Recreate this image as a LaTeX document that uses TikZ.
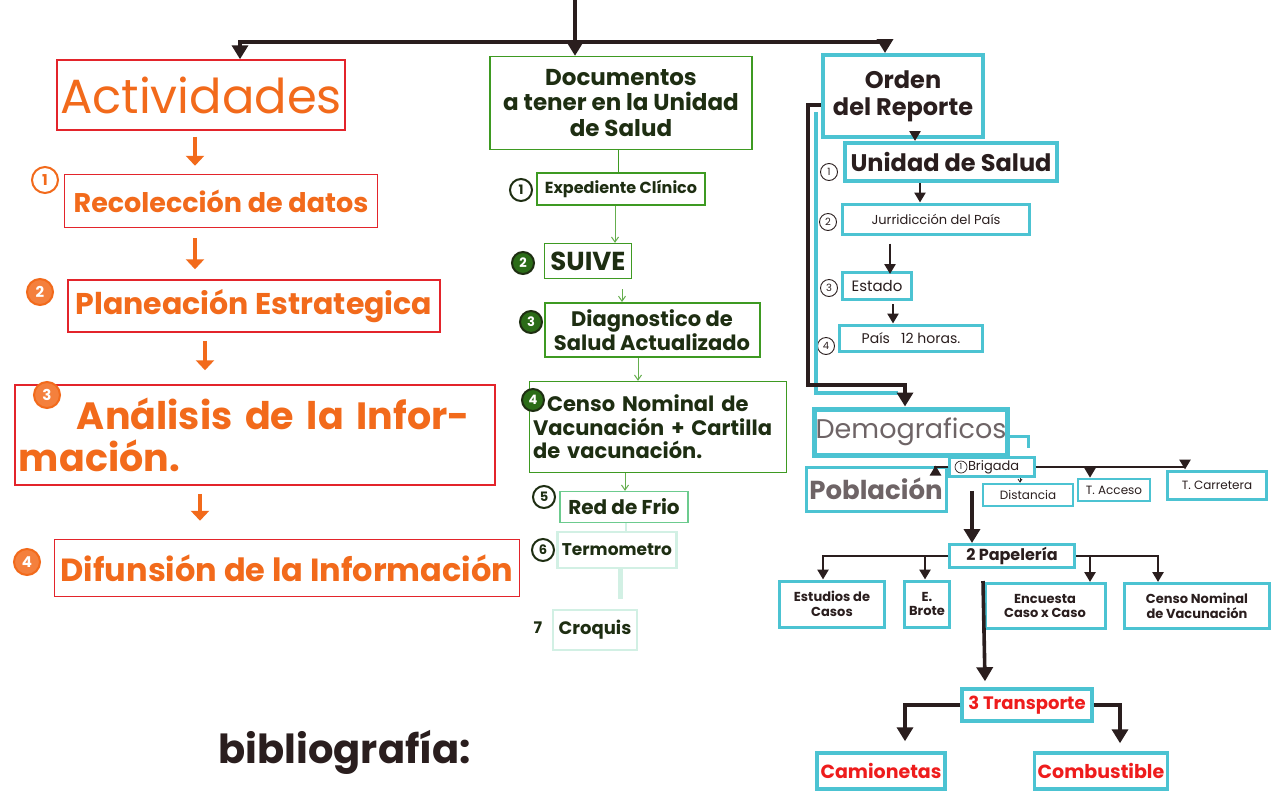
\documentclass[tikz,border=0pt]{standalone}
\usepackage{fontspec}
\setmainfont{Poppins}
\usetikzlibrary{arrows.meta,calc}
\definecolor{boxred}{HTML}{E3242B}
\definecolor{txtor}{HTML}{F26A1B}
\definecolor{boxgreen}{HTML}{3E9A22}
\definecolor{txtgreen}{HTML}{1E2E12}
\definecolor{lgreen}{HTML}{6CCB8E}
\definecolor{fgreen}{HTML}{D2F0E4}
\definecolor{cyanbox}{HTML}{4CC3D2}
\definecolor{ink}{HTML}{2A1E1E}
\definecolor{graytxt}{HTML}{6E6466}
\definecolor{redtxt}{HTML}{EE1C1C}
\newcommand{\fs}[1]{\fontsize{#1}{1.12\dimexpr #1pt\relax}\selectfont}
\tikzset{
  obox/.style={draw=boxred, line width=1.5pt, text=txtor, font=\bfseries, inner sep=0pt, align=center},
  onum/.style={circle, draw=txtor, line width=2pt, text=txtor, font=\bfseries\fs{15}, inner sep=1pt, minimum size=26pt},
  onumf/.style={onum, fill=txtor!85, text=white},
  oarrow/.style={draw=txtor, line width=4.5pt, -{Triangle[length=10pt,width=18pt]}},
  gbox/.style={draw=boxgreen, line width=1.3pt, text=txtgreen, font=\bfseries, inner sep=0pt, align=center},
  gnum/.style={circle, draw=txtgreen, line width=2pt, text=txtgreen, font=\bfseries\fs{13}, inner sep=1pt, minimum size=22pt},
  gnumf/.style={gnum, fill=boxgreen!70!black, text=white},
  garrow/.style={draw=boxgreen!80, line width=1pt, -{Straight Barb[length=5pt,width=7pt]}},
  cbox/.style={draw=cyanbox, line width=4pt, text=ink, font=\bfseries, inner sep=0pt, align=center},
  cnum/.style={circle, draw=ink, line width=0.9pt, text=ink, font=\fs{10}, inner sep=0.8pt, minimum size=17pt},
  barrow/.style={draw=ink, line width=3.6pt, -{Triangle[length=14pt,width=16pt]}},
  sarrow/.style={draw=ink, line width=2.6pt, -{Triangle[length=10pt,width=11pt]}},
}
\begin{document}
\begin{tikzpicture}[x=1pt,y=-1pt]
\useasboundingbox[fill=white] (0,0) rectangle (1285,793);

% ---------- top connector ----------
\coordinate (topstart) at (575,0);
\coordinate (hub) at (575,42);

% ---------- left column ----------
\node[obox, minimum width=288pt, minimum height=70pt, font=\fs{48}] (act) at (201,95) {Actividades};
\node[obox, minimum width=313pt, minimum height=53pt, font=\bfseries\fs{27}] (rec) at (221,201) {Recolección de datos};
\node[onum] (n1) at (45,180) {1};
\node[obox, minimum width=372pt, minimum height=52pt, font=\bfseries\fs{30}] (plan) at (254,306) {Planeación Estrategica};
\node[onumf] (n2) at (40,292) {2};
\node[obox, minimum width=480pt, minimum height=100pt, font=\bfseries\fs{38}, align=left, text width=472pt] (anal) at (255,435) {\hspace*{58pt}Análisis de la Infor-\\mación.};
\node[onumf] (n3) at (47,395) {3};
\node[obox, minimum width=465pt, minimum height=57pt, font=\bfseries\fs{32}] (dif) at (287,568) {Difunsión de la Información};
\node[onumf] (n4) at (27,562) {4};
\node[font=\bfseries\fs{40}, text=ink, anchor=west] (bib) at (215,752) {bibliografía:};

\draw[oarrow] ([xshift=-6pt,yshift=-6pt]act.south) -- ([xshift=-26pt,yshift=8pt]rec.north);
\draw[oarrow] ([xshift=-26pt,yshift=-10pt]rec.south) -- ([xshift=-59pt,yshift=10pt]plan.north);
\draw[oarrow] ([xshift=-49pt,yshift=-8pt]plan.south) -- ([xshift=-50pt,yshift=14pt]anal.north);
\draw[oarrow] ([xshift=-55pt,yshift=-8pt]anal.south) -- ([xshift=-87pt,yshift=18pt]dif.north);

% ---------- middle column ----------
\node[gbox, minimum width=262pt, minimum height=93pt, font=\bfseries\fs{23}] (docs) at (621,103) {Documentos\\a tener en la Unidad\\de Salud};
\node[gbox, minimum width=168pt, minimum height=32pt, font=\bfseries\fs{16}] (exp) at (621,189) {Expediente Clínico};
\node[gnum] (g1) at (521,190) {1};
\node[gbox, minimum width=87pt, minimum height=35pt, font=\bfseries\fs{26}] (suive) at (588,261) {SUIVE};
\node[gnumf] (g2) at (523,263) {2};
\node[gbox, minimum width=215pt, minimum height=54pt, font=\bfseries\fs{21}, line width=2pt] (diag) at (652,330) {Diagnostico de\\Salud Actualizado};
\node[gnumf] (g3) at (531,322) {3};
\node[gbox, minimum width=257pt, minimum height=91pt, font=\bfseries\fs{21}, align=left, text width=250pt] (censo) at (658,427) {\hspace*{14pt}Censo Nominal de\\Vacunación + Cartilla\\de vacunación.};
\node[gnumf] (g4) at (533,400) {4};
\node[gbox, draw=lgreen, minimum width=128pt, minimum height=31pt, font=\bfseries\fs{20}] (red) at (624,507) {Red de Frio};
\node[gnum] (g5) at (544,497) {5};
\node[gbox, draw=fgreen, line width=2.5pt, minimum width=119pt, minimum height=36pt, font=\bfseries\fs{17}] (termo) at (617,550) {Termometro};
\node[gnum] (g6) at (543,550) {6};
\node[gbox, draw=fgreen, line width=2.5pt, minimum width=84pt, minimum height=40pt, font=\bfseries\fs{18}] (croq) at (595,630) {Croquis};
\node[text=txtgreen, font=\bfseries\fs{16}] (g7) at (538,628) {7};

\draw[draw=boxgreen, line width=1pt] ([xshift=-3pt]docs.south) -- ([xshift=-3pt]exp.north);
\draw[garrow] ([xshift=-6pt]exp.south) -- ([xshift=27pt]suive.north);
\draw[garrow] ([xshift=34pt,yshift=-10pt]suive.south) -- ([xshift=-30pt,yshift=0pt]diag.north);
\draw[garrow] ([xshift=-14pt]diag.south) -- ([xshift=-20pt]censo.north);
\draw[garrow] ([xshift=-33pt]censo.south) -- ([xshift=1pt]red.north);
\draw[draw=fgreen, line width=2pt] ([xshift=2pt]red.south) -- ([xshift=9pt]termo.north);
\draw[draw=fgreen, line width=5pt] ([xshift=3pt]termo.south) -- ++(0,30);

% ---------- right column ----------
\node[cbox, minimum width=160pt, minimum height=82pt, font=\bfseries\fs{24}] (orden) at (903,96) {Orden\\del Reporte};
\node[cbox, minimum width=212pt, minimum height=38pt, font=\bfseries\fs{24}] (unid) at (951,162) {Unidad de Salud};
\node[cnum] (c1) at (829,172) {1};
\node[cbox, line width=3pt, minimum width=187pt, minimum height=30pt, font=\fs{13}] (jur) at (936,219) {Jurridicción del País};
\node[cnum] (c2) at (828,222) {2};
\node[cbox, line width=3pt, minimum width=69pt, minimum height=27pt, font=\fs{15}] (estado) at (877,286) {Estado};
\node[cnum] (c3) at (829,288) {3};
\node[cbox, line width=3pt, minimum width=143pt, minimum height=26pt, font=\fs{14}] (pais) at (911,338) {País \ \ 12 horas.};
\node[cnum] (c4) at (826,346) {4};

\draw[sarrow] ([xshift=12pt]orden.south) -- ([xshift=-36pt]unid.north);
\draw[sarrow] ([xshift=-31pt]unid.south) -- ([xshift=-16pt]jur.north);
\draw[sarrow] ([xshift=-46pt,yshift=-8pt]jur.south) -- ([xshift=13pt,yshift=-3pt]estado.north);
\draw[sarrow] ([xshift=16pt,yshift=-3pt]estado.south) -- ([xshift=-18pt]pais.north);

\node[cbox, line width=5pt, minimum width=193pt, minimum height=46pt, text=graytxt, font=\fs{27}] (demog) at (911,432) {Demograficos};
\node[cbox, line width=3pt, minimum width=140pt, minimum height=44pt, text=graytxt, font=\bfseries\fs{26}] (pob) at (876,489) {Población};
\draw[draw=cyanbox, line width=3pt] ([yshift=-4pt]demog.east) -- ++(18,0) -- ++(0,12);

% thick black bracket from Orden to Demograficos
\coordinate (bk1) at (808,105);
\coordinate (bk2) at (808,385);
\draw[draw=cyanbox, line width=4pt] (816,112) -- (816,393) -- (898,393);
\draw[barrow] ([yshift=-9pt]orden.west) -- (bk1) -- (bk2) -| ([xshift=-6pt]demog.north);

\node[cbox, line width=2.5pt, minimum width=85pt, minimum height=19pt, font=\fs{13}, text=ink, text width=80pt, align=left] (brig) at (992,467) {\hspace*{16pt}Brigada};
\node[circle, draw=ink, line width=0.7pt, inner sep=0pt, minimum size=12pt, font=\fs{8}] (b1) at (961,467) {1};
\node[cbox, line width=2.5pt, minimum width=90pt, minimum height=22pt, font=\fs{12}] (dist) at (1028,495) {Distancia};
\node[cbox, line width=2.5pt, minimum width=72pt, minimum height=22pt, font=\fs{12}] (tacc) at (1114,490) {T. Acceso};
\node[cbox, line width=3pt, minimum width=99pt, minimum height=28pt, font=\fs{12}] (tcar) at (1217,485) {T. Carretera};

\draw[sarrow] (brig.west) -| ([xshift=-12pt]pob.north east);
\draw[draw=ink, line width=0.8pt, -{Straight Barb[length=3pt,width=4pt]}] ([xshift=28pt]brig.south) -- ([xshift=-8pt]dist.north);
\draw[sarrow] (brig.east) -| ([xshift=-24pt]tacc.north);
\draw[sarrow] (brig.east) -| ([xshift=-32pt]tcar.north);

\node[cbox, line width=3pt, minimum width=125pt, minimum height=23pt, font=\bfseries\fs{16}] (pap) at (1012,556) {2 Papelería};
\draw[barrow] ([xshift=-20pt,yshift=-13pt]brig.south) -- ([xshift=-40pt]pap.north);

\node[cbox, line width=3pt, minimum width=105pt, minimum height=46pt, font=\bfseries\fs{13}] (estu) at (832,604) {Estudios de\\Casos};
\node[cbox, line width=3pt, minimum width=45pt, minimum height=46pt, font=\bfseries\fs{13}] (brote) at (927,604) {E.\\Brote};
\node[cbox, line width=3pt, minimum width=120pt, minimum height=45pt, font=\bfseries\fs{13}] (enc) at (1045,606) {Encuesta\\Caso x Caso};
\node[cbox, line width=3pt, minimum width=145pt, minimum height=45pt, font=\bfseries\fs{13}] (cnv) at (1197,606) {Censo Nominal\\de Vacunación};

\draw[sarrow] (pap.west) -| ([xshift=-9pt]estu.north);
\draw[sarrow] (pap.west) -| ([xshift=-2pt]brote.north);
\draw[sarrow] (pap.east) -| ([xshift=45pt]enc.north);
\draw[sarrow] (pap.east) -| ([xshift=-39pt]cnv.north);

\node[cbox, line width=3.5pt, minimum width=130pt, minimum height=32pt, text=redtxt, font=\bfseries\fs{18}] (trans) at (1027,705) {3 Transporte};
\draw[barrow] ([xshift=-29pt,yshift=-12pt]pap.south) -- ([xshift=-42pt,yshift=6pt]trans.north);

\node[cbox, line width=3.5pt, minimum width=128pt, minimum height=36pt, text=redtxt, font=\bfseries\fs{19}] (cam) at (881,771) {Camionetas};
\node[cbox, line width=3.5pt, minimum width=133pt, minimum height=36pt, text=redtxt, font=\bfseries\fs{19}] (comb) at (1101,771) {Combustible};
\draw[barrow, shorten >=10pt] (trans.west) -| ([xshift=24pt]cam.north);
\draw[barrow, shorten >=8pt] (trans.east) -| ([xshift=19pt]comb.north);

% top connector
\draw[barrow] (topstart) -- (topstart |- docs.north);
\draw[barrow] (hub) -| ([xshift=39pt]act.north);
\draw[barrow] (hub) -| ([xshift=-18pt]orden.north);
\end{tikzpicture}
\end{document}
